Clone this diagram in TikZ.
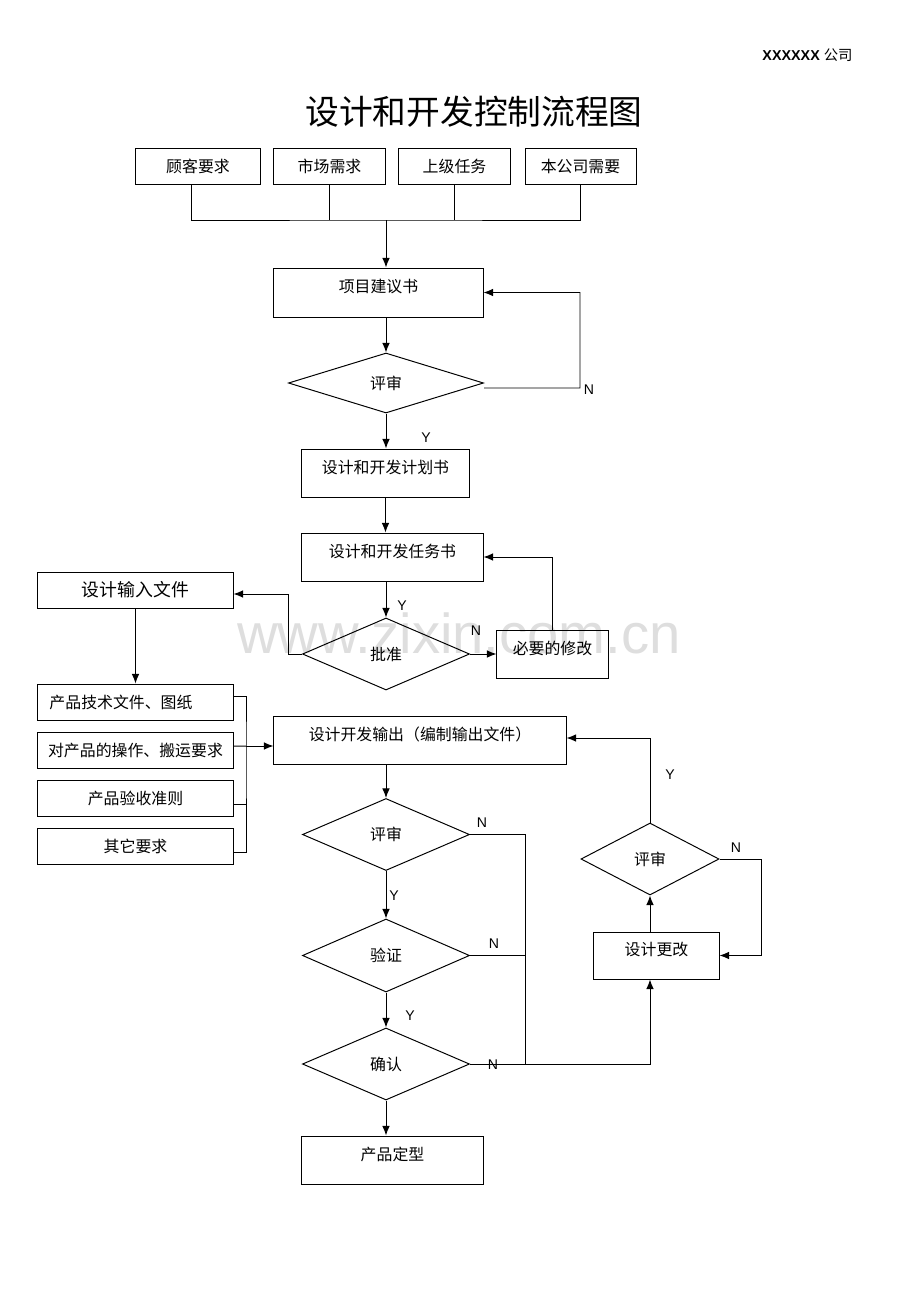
\documentclass[tikz,border=0pt]{standalone}
\usepackage{fontspec}
\setmainfont{Liberation Sans}
\newfontfamily\cjk{Noto Sans CJK SC}
\usepackage{tikz}
\usetikzlibrary{calc,shapes,arrows.meta}
\newcommand{\flowfont}{\cjk\fontsize{11.3}{13}\selectfont}

\begin{document}
\begin{tikzpicture}[x=0.025cm,y=-0.025cm,>={Latex[length=2.4mm,width=1.9mm]},line width=0.7pt,
		box/.style={draw,rectangle,minimum width=#1,minimum height=0.9cm,inner sep=0pt,font=\flowfont},
		tallbox/.style={box=#1,minimum height=1.2cm,text height=0.3cm,text depth=0.3cm},
		decision/.style={draw,diamond,aspect=2.5,inner sep=0pt,font=\flowfont},
		yn/.style={font=\fontsize{10}{12}\selectfont}]
		\useasboundingbox (0,0) rectangle (920,1302);
		\node[text=black!13,font=\fontsize{40}{48}\selectfont] (mark) at (459,633) {www.zixin.com.cn};
		\node[font=\bfseries\fontsize{10.2}{12}\selectfont,anchor=east,inner sep=0pt] (company) at (853,55) {XXXXXX {\cjk\mdseries 公司}};
		\node[font=\cjk\fontsize{24}{28}\selectfont] (title) at (474,112) {设计和开发控制流程图};
		\begin{scope}
			\node[box=3.1cm] (cust) at (198,166) {顾客要求};
			\node[box=2.775cm] (market) at (329.5,166) {市场需求};
			\node[box=2.775cm] (upper) at (454.5,166) {上级任务};
			\node[box=2.775cm] (own) at (580.5,166) {本公司需要};
			\coordinate (bus) at (386,220);
			\node[tallbox=5.225cm,minimum height=1.225cm] (prop) at (378.5,292.5) {项目建议书};
			\draw ([xshift=-0.175cm]cust.south) |- (bus) -| (own.south);
			\draw (market.south) -- (market.south |- bus);
			\draw (upper.south) -- (upper.south |- bus);
			\draw[->] (bus) -- (bus |- prop.north);
			\node[decision,minimum width=4.875cm,minimum height=1.5cm] (rev1) at (386,383) {评审};
			\coordinate (n1) at (580,388);
			\draw[->] (rev1.north |- prop.south) -- (rev1.north);
			\draw[->] ([yshift=-0.125cm]rev1.east) -- (n1) |- (prop.east);
			\node[yn] (n1lbl) at (589,390) {N};
			\node[yn] (y1lbl) at (426,438) {Y};
		\end{scope}
		\begin{scope}
			\node[tallbox=4.175cm] (plan) at (385.5,473) {设计和开发计划书};
			\node[tallbox=4.525cm] (task) at (392.5,557) {设计和开发任务书};
			\node[decision,minimum width=4.175cm,minimum height=1.8cm] (approve) at (386,654) {批准};
			\node[tallbox=2.775cm] (revise) at (552.5,654) {必要的修改};
			\node[box=4.875cm,font=\cjk\fontsize{12.7}{15}\selectfont] (input) at (135.5,590) {设计输入文件};
			\draw[->] (rev1.south) -- (rev1.south |- plan.north);
			\draw[->] (plan.south) -- (plan.south |- task.north);
			\draw[->] (task.south -| approve.north) -- (approve.north);
			\draw[->] (approve.west) -- ++(-13,0) |- ([yshift=-0.1cm]input.east);
			\draw[->] (approve.east) -- (revise.west);
			\draw[->] (revise.north) |- (task.east);
			\node[yn] (y2lbl) at (402,606) {Y};
			\node[yn] (n2lbl) at (476,631) {N};
		\end{scope}
		\begin{scope}
			\node[box=4.875cm] (tech) at (135.5,702) {\hbox to 4.3cm{产品技术文件、图纸\hfil}};
			\node[box=4.875cm] (handle) at (135.5,750) {对产品的操作、搬运要求};
			\node[box=4.875cm] (accept) at (135.5,798) {产品验收准则};
			\node[box=4.875cm] (other) at (135.5,846) {其它要求};
			\coordinate (brk) at (246,746);
			\node[tallbox=7.3cm] (output) at (420,740) {设计开发输出（编制输出文件）};
			\draw[->] (input.south) -- (tech.north);
			\draw ([yshift=0.15cm]tech.east) -| (brk) |- ([yshift=-0.15cm]other.east);
			\draw ([yshift=-0.15cm]accept.east) -- ++(13,0);
			\draw ([yshift=0.1cm]handle.east) -- (brk);
			\draw[->] (brk) -- (brk -| output.west);
		\end{scope}
		\begin{scope}
			\node[decision,minimum width=4.175cm,minimum height=1.8cm] (rev2) at (386,834.5) {评审};
			\node[decision,minimum width=4.175cm,minimum height=1.825cm] (verify) at (386,955.5) {验证};
			\node[decision,minimum width=4.175cm,minimum height=1.8cm] (confirm) at (386,1064) {确认};
			\node[tallbox=4.525cm] (final) at (392.5,1160) {产品定型};
			\node[tallbox=3.125cm,minimum height=1.175cm] (change) at (656.5,955.5) {设计更改};
			\node[decision,minimum width=3.45cm,minimum height=1.8cm] (rev3) at (650,859) {评审};
			\coordinate (nbus) at (525,1064);
			\draw[->] (output.south -| rev2.north) -- (rev2.north);
			\draw[->] (rev2.south) -- (verify.north);
			\draw[->] (verify.south) -- (confirm.north);
			\draw[->] (confirm.south) -- (confirm.south |- final.north);
			\draw (rev2.east) -| (nbus);
			\draw (verify.east) -- (verify.east -| nbus);
			\draw[->] (confirm.east) -| (rev3.south |- change.south);
			\draw[->] (rev3.south |- change.north) -- (rev3.south);
			\draw[->] (rev3.east) -- ++(42,0) |- (change.east);
			\draw[->] (rev3.north) |- ([yshift=0.05cm]output.east);
			\node[yn] (n3lbl) at (482,823) {N};
			\node[yn] (y3lbl) at (394,896) {Y};
			\node[yn] (n4lbl) at (494,944) {N};
			\node[yn] (y4lbl) at (410,1016) {Y};
			\node[yn] (n5lbl) at (493,1065) {N};
			\node[yn] (y5lbl) at (670,775) {Y};
			\node[yn] (n6lbl) at (736,848) {N};
		\end{scope}
	\end{tikzpicture}
\end{document}
